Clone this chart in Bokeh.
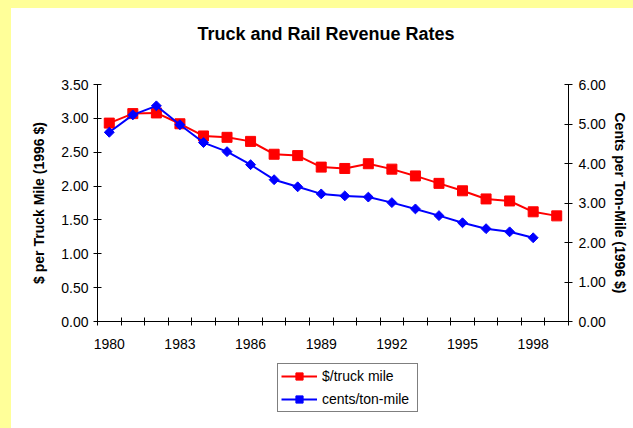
from bokeh.plotting import figure
from bokeh.layouts import column
from bokeh.models import (Range1d, LinearAxis, FixedTicker, NumeralTickFormatter,
                          Legend, LegendItem, GlobalInlineStyleSheet, Title)
from bokeh.embed import file_html
from bokeh.resources import INLINE
import math

# ---- data ----
truck_years = list(range(1980, 2000))
truck_rate = [2.93, 3.07, 3.08, 2.92, 2.74, 2.72, 2.66, 2.47, 2.45, 2.28,
              2.26, 2.33, 2.25, 2.15, 2.04, 1.93, 1.81, 1.78, 1.62, 1.56]
rail_years = list(range(1980, 1999))
rail_rate = [4.79, 5.23, 5.46, 4.98, 4.53, 4.30, 3.97, 3.59, 3.41, 3.23,
             3.18, 3.15, 3.01, 2.85, 2.68, 2.50, 2.35, 2.27, 2.12]
year_labels = [1980, 1983, 1986, 1989, 1992, 1995, 1998]
left_ticks = [0, 0.5, 1.0, 1.5, 2.0, 2.5, 3.0, 3.5]
right_ticks = [0, 1, 2, 3, 4, 5, 6]

title_text = "Truck and Rail Revenue Rates"
left_label = "$ per Truck Mile (1996 $)"
right_label = "Cents per Ton-Mile (1996 $)"
truck_name = "$/truck mile"
rail_name = "cents/ton-mile"

FONT = "Liberation Sans"
RED = "#FF0000"
BLUE = "#0000FF"

p = figure(width=622, height=355, output_backend="svg", toolbar_location=None,
           frame_width=471, frame_height=237,
           min_border_left=86, min_border_right=65, min_border_top=76, min_border_bottom=42,
           x_range=Range1d(truck_years[0] - 0.5, truck_years[-1] + 0.5),
           y_range=Range1d(0, 3.5),
           x_axis_type=None, y_axis_type=None, title=None)
p.extra_y_ranges = {"right": Range1d(0, 6)}
p.stylesheets = [GlobalInlineStyleSheet(css=(
    "html{background:#FFFF99 !important;}"
    "body{background:transparent !important;padding:8px 0 0 11px !important;"
    "margin:0 !important;box-sizing:border-box !important;overflow:hidden !important;}"))]
p.styles = {"background-color": "white"}

p.outline_line_color = None
p.background_fill_color = "white"
p.border_fill_color = "white"
p.xgrid.visible = False
p.ygrid.visible = False

# spacer (nearest the frame) then the real title above it
spacer = Title(text=" ", text_font_size="10px", standoff=18, text_color="white")
p.add_layout(spacer, "above")
title = Title(text=title_text, align="left", offset=100, standoff=20,
              text_font=FONT, text_font_size="18px", text_font_style="bold",
              text_color="black")
p.add_layout(title, "above")

# x axis
xa = LinearAxis(ticker=FixedTicker(ticks=year_labels,
                                   minor_ticks=[y - 0.5 for y in truck_years] + [truck_years[-1] + 0.5]))
xa.formatter = NumeralTickFormatter(format="0")
xa.major_tick_in = 0
xa.major_tick_out = 0
xa.minor_tick_in = 4
xa.minor_tick_out = 4
xa.minor_tick_line_color = "black"
xa.axis_line_color = "black"
xa.major_label_standoff = 13
xa.major_label_text_font = FONT
xa.major_label_text_font_size = "14px"
xa.major_label_text_color = "black"
p.add_layout(xa, "below")

# left y axis
ya = LinearAxis(ticker=FixedTicker(ticks=left_ticks, minor_ticks=[]))
ya.formatter = NumeralTickFormatter(format="0.00")
ya.major_tick_in = 4
ya.major_tick_out = 4
ya.major_tick_line_color = "black"
ya.axis_line_color = "black"
ya.major_label_standoff = 5
ya.major_label_text_font = FONT
ya.major_label_text_font_size = "14px"
ya.major_label_text_color = "black"
ya.axis_label = left_label
ya.axis_label_text_font = FONT
ya.axis_label_text_font_size = "14px"
ya.axis_label_text_font_style = "bold"
ya.axis_label_text_color = "black"
ya.axis_label_standoff = 11
p.add_layout(ya, "left")

# right y axis
ra = LinearAxis(y_range_name="right", ticker=FixedTicker(ticks=right_ticks, minor_ticks=[]))
ra.formatter = NumeralTickFormatter(format="0.00")
ra.major_tick_in = 4
ra.major_tick_out = 4
ra.major_tick_line_color = "black"
ra.axis_line_color = "black"
ra.major_label_standoff = 6
ra.major_label_text_font = FONT
ra.major_label_text_font_size = "14px"
ra.major_label_text_color = "black"
ra.axis_label = right_label
ra.axis_label_text_font = FONT
ra.axis_label_text_font_size = "14px"
ra.axis_label_text_font_style = "bold"
ra.axis_label_text_color = "black"
ra.axis_label_standoff = 3
p.add_layout(ra, "right")

# series
p.line(truck_years, truck_rate, line_color=RED, line_width=2)
p.scatter(truck_years, truck_rate, marker="square", size=10, fill_color=RED, line_color=RED)
p.line(rail_years, rail_rate, line_color=BLUE, line_width=2, y_range_name="right")
p.scatter(rail_years, rail_rate, marker="square", size=7, angle=math.pi / 4,
          fill_color=BLUE, line_color=BLUE, y_range_name="right")

# ---- legend strip under the chart (frame aligned with the chart's frame) ----
q = figure(width=622, height=65, output_backend="svg", toolbar_location=None,
           frame_width=471, frame_height=65,
           min_border_left=86, min_border_right=65, min_border_top=0, min_border_bottom=0,
           x_range=Range1d(0, 1), y_range=Range1d(0, 1),
           x_axis_type=None, y_axis_type=None, title=None)
q.styles = {"background-color": "white"}
q.outline_line_color = None
q.background_fill_color = "white"
q.border_fill_color = "white"
q.xgrid.visible = False
q.ygrid.visible = False
# the same series, outside this strip's ranges: only their legend glyphs show
tl = q.line(truck_years, truck_rate, line_color=RED, line_width=2)
ts = q.scatter(truck_years, truck_rate, marker="square", size=10, fill_color=RED, line_color=RED)
rl = q.line(rail_years, rail_rate, line_color=BLUE, line_width=2)
rs = q.scatter(rail_years, rail_rate, marker="square", size=7, angle=math.pi / 4,
               fill_color=BLUE, line_color=BLUE)

legend = Legend(items=[LegendItem(label=truck_name, renderers=[tl, ts]),
                       LegendItem(label=rail_name, renderers=[rl, rs])],
                location=(180, 16))
legend.label_text_font = FONT
legend.label_text_font_size = "14px"
legend.label_text_color = "black"
legend.border_line_color = "black"
legend.border_line_width = 1
legend.background_fill_alpha = 1
legend.padding = 3
legend.spacing = 5
legend.glyph_width = 36
legend.glyph_height = 18
legend.label_height = 18
legend.label_width = 92
legend.label_standoff = 5
legend.margin = 0
q.add_layout(legend, "center")

layout = column(p, q, spacing=0)
layout.styles = {"background-color": "white"}
open("out.html", "w").write(file_html(layout, INLINE))
